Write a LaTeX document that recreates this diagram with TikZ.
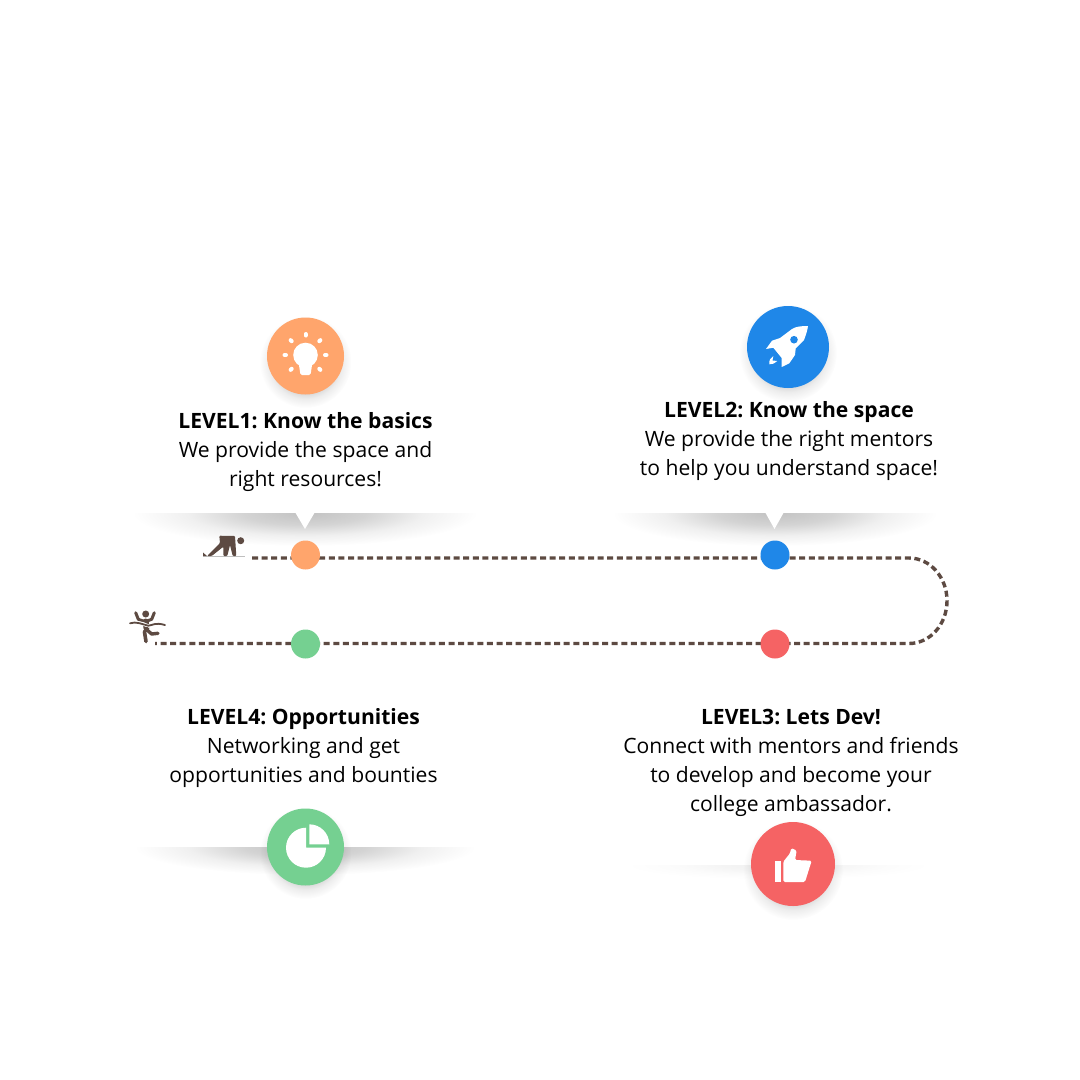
\documentclass[tikz,border=0pt]{standalone}
\usepackage{fontspec}
\setmainfont{Open Sans}
\usetikzlibrary{positioning}
\usetikzlibrary{fadings}

\definecolor{levelorange}{HTML}{FFA56C}
\definecolor{levelblue}{HTML}{1F87E8}
\definecolor{levelgreen}{HTML}{75D091}
\definecolor{levelred}{HTML}{F56364}
\definecolor{runbrown}{HTML}{5D4A42}

\pgfdeclareradialshading{bandmask}{\pgfpointorigin}{color(0bp)=(pgftransparent!76); color(9bp)=(pgftransparent!83); color(17bp)=(pgftransparent!94); color(25bp)=(pgftransparent!100); color(50bp)=(pgftransparent!100)}
\pgfdeclarefading{bandfade}{\pgfuseshading{bandmask}}
\pgfdeclareradialshading{discmask}{\pgfpointorigin}{color(0bp)=(pgftransparent!76); color(15bp)=(pgftransparent!80); color(20bp)=(pgftransparent!93); color(25bp)=(pgftransparent!100); color(50bp)=(pgftransparent!100)}
\pgfdeclarefading{discfade}{\pgfuseshading{discmask}}

\tikzset{
	leveltext/.style={align=center, inner sep=0pt, font=\fontsize{21.1}{29}\selectfont\frenchspacing},
	bigdisc/.style={circle, inner sep=0pt, minimum size=#1},
	rundot/.style={circle, inner sep=0pt, minimum size=29},
	runline/.style={runbrown, line width=3.4, dash pattern=on 6 off 3.6},
	runner/.style={runbrown, line width=3.4, line cap=round, line join=round},
}

\begin{document}
\begin{tikzpicture}[x=1pt,y=-1pt]

	\useasboundingbox (0,0) rectangle (1080,1080);
	\fill[white] (0,0) rectangle (1080,1080);

	% shadows under the cards
	\begin{scope}
		\clip (100,513) rectangle (500,560);
		\fill[black, path fading=bandfade] (305,513) ellipse (172 and 33);
	\end{scope}
	\begin{scope}
		\clip (590,513) rectangle (960,560);
		\fill[black, path fading=bandfade] (775,513) ellipse (162 and 33);
	\end{scope}
	\begin{scope}
		\clip (100,847) rectangle (500,890);
		\fill[black, path fading=bandfade] (305,847) ellipse (170 and 28);
	\end{scope}
	\begin{scope}
		\clip (600,865) rectangle (950,890);
		\fill[black, path fading=bandfade, opacity=0.25] (778,865) ellipse (150 and 14);
	\end{scope}
	\fill[white] (295,512) -- (315,512) -- (305,529) -- cycle;
	\fill[white] (765,512) -- (784,512) -- (774.5,529) -- cycle;

	% shadows under the discs
	\fill[black, path fading=discfade] (305.5,362) circle (46);
	\fill[black, path fading=discfade] (788,353) circle (49);
	\fill[black, path fading=discfade] (305.5,853) circle (46);
	\fill[black, path fading=discfade] (793,870) circle (50);

	% the track
	\coordinate (runstart) at (252,558);
	\coordinate (turntop) at (909,558);
	\coordinate (turnbottom) at (909,643.5);
	\coordinate (runend) at (155,643.5);
	\draw[runline] (runstart) -- (turntop) arc[start angle=-90, end angle=90, x radius=38, y radius=42.75] -- (runend);

	\node[rundot, fill=levelorange] (dotone) at (305.5,555) {};
	\node[rundot, fill=levelblue] (dottwo) at (775,555) {};
	\node[rundot, fill=levelred] (dotthree) at (775,644) {};
	\node[rundot, fill=levelgreen] (dotfour) at (305.5,644) {};

	\node[bigdisc=77, fill=levelorange] (discone) at (305.5,356) {};
	\node[bigdisc=82, fill=levelblue] (disctwo) at (788,347) {};
	\node[bigdisc=84, fill=levelred] (discthree) at (793,864) {};
	\node[bigdisc=77, fill=levelgreen] (discfour) at (305.5,847) {};

	\node[leveltext] (textone) at (305.5,452) {\textbf{LEVEL1: Know the basics}\\We provide the space and\\right resources!};
	\node[leveltext] (texttwo) at (789,441) {\textbf{LEVEL2: Know the space}\\We provide the right mentors\\to help you understand space!};
	\node[leveltext] (textthree) at (791,762.5) {\textbf{LEVEL3: Lets Dev!}\\Connect with mentors and friends\\to develop and become your\\college ambassador.};
	\node[leveltext] (textfour) at (303.5,748) {\textbf{LEVEL4: Opportunities}\\Networking and get\\opportunities and bounties};

	% bulb
	\fill[white] (305.5,355) circle (12.3);
	\fill[white, rounded corners=1.5] (298.5,362) -- (300.5,375) -- (310.5,375) -- (312.5,362) -- cycle;
	\foreach \a in {-90,-45,0,180,225,45,135}
		\draw[white, line width=4, line cap=round] (305.5,355) ++(\a:19.5) -- ++(\a:1.5);

	% rocket
	\fill[white] (808,326) .. controls (801,326) and (796,326.5) .. (792,329) -- (780,338) -- (772,340.7) -- (766,349) -- (773.3,347.7) -- (781.7,358) -- (781.7,367) -- (789.3,363.3) -- (795,355) -- (795.7,348.5) -- (804,340) .. controls (806,335) and (807.5,330) .. (808,326) -- cycle;
	\fill[levelblue] (794,339.7) circle (3.8);
	\fill[white] (769.3,364.3) .. controls (769,360) and (770.5,358) .. (773.3,356) -- (772.5,360.5) -- (777.3,361) .. controls (775,363.5) and (772,364.5) .. (769.3,364.3) -- cycle;

	% thumb
	\fill[white] (775,860.7) rectangle (780.7,882);
	\fill[white, rounded corners=1.5] (783.3,882) -- (783.3,861.7) -- (790,853.3) -- (791.2,848) -- (796.7,850.5) -- (795,860) -- (811.7,860.7) -- (805,882) -- cycle;

	% pie
	\fill[white] (306,847.7) -- (306,827.7) arc[start angle=-90, end angle=-360, radius=20] -- cycle;
	\fill[white] (309.3,844.3) -- (309.3,824.3) arc[start angle=-90, end angle=0, radius=20] -- cycle;

	% runner at the start
	\draw[black!25, line width=1] (203,556) -- (245,556);
	\fill[runbrown] (203,552.5) -- (207,556) -- (203,556) -- cycle;
	\fill[runbrown] (240.7,540.7) circle (3.5);
	\fill[runbrown, rounded corners=1] (219.3,535.7) -- (235,536) -- (236.3,556) -- (232.7,556) -- (230,545) -- (227.3,556) -- (223.3,556) -- (223.3,546.7) -- (211.7,556) -- (207,556) -- (220,543) -- cycle;

	% runner at the end
	\fill[runbrown] (145.7,614) circle (3.5);
	\draw[runner, line width=3] (135.7,612.7) -- (138.3,619.3) -- (145,621.7) -- (151.7,619.3) -- (154.3,612.7);
	\draw[runner, line width=6] (145.7,621.5) -- (146.5,628);
	\draw[white, line width=3.4] (136,624) .. controls (141,621) and (146,626) .. (149,626) .. controls (153,626) and (156,622.5) .. (160,623);
	\draw[runner, line width=1.8] (130,623.3) .. controls (136,621) and (143,624.5) .. (148.3,625.7) .. controls (152,625.5) and (155,622) .. (165,625);
	\draw[runner, line width=3.6] (146.7,628.3) -- (144.5,632) -- (146,641.5);
	\draw[runner, line width=3.4] (147,630) -- (151.7,634) -- (158,633.3);

\end{tikzpicture}
\end{document}
